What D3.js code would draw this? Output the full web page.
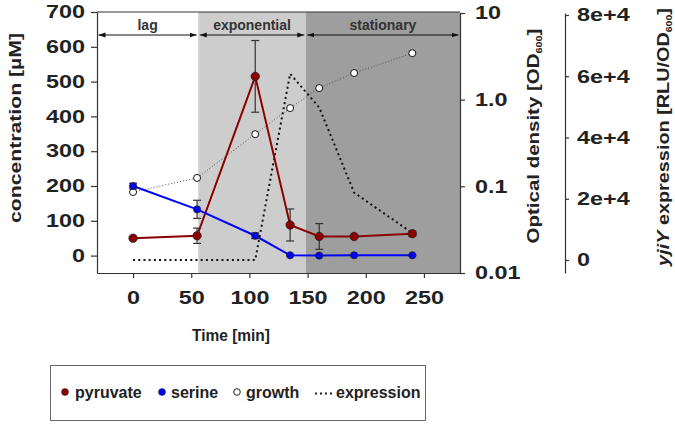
<!DOCTYPE html>
<html>
<head>
<meta charset="utf-8">
<script src="https://cdn.jsdelivr.net/npm/d3@7.9.0/dist/d3.min.js"></script>
<style>
  body { margin: 0; background: #fff; }
  svg { display: block; font-family: "Liberation Sans", Arial, sans-serif; }
</style>
</head>
<body>
<div id="chart"></div>
<script>
// sampling times [min]
const times = [0, 55, 105, 135, 160, 190, 240];
// concentrations [µM]
const pyruvate = [50, 57, 515, 88, 55, 55, 63];
const pyruvateErr = [4, 22, 103, 46, 37, 3, 8];
const serine = [200, 133, 57, 1, 0, 1, 1];
const serineErr = [8, 26, 8, 2, 2, 2, 2];
// OD600
const growth = [0.086, 0.125, 0.40, 0.80, 1.36, 2.03, 3.44];
// yjiY expression [RLU/OD600]
const expression = [0, 0, 0, 60800, 49800, 22000, 8800];

// growth phases (start/end in min)
const phaseNames = ['lag', 'exponential', 'stationary'];
const phaseEdges = [-31, 56, 148.5, 281];

const xTicks = [0, 50, 100, 150, 200, 250];
const concTicks = [0, 100, 200, 300, 400, 500, 600, 700];
const odTicks = [0.01, 0.1, 1, 10];
const odLabels = ['0.01', '0.1', '1.0', '10'];
const exprTicks = [0, 20000, 40000, 60000, 80000];
const exprLabels = ['0', '2e+4', '4e+4', '6e+4', '8e+4'];

const legendNames = ['pyruvate', 'serine', 'growth', 'expression'];

const W = 675, H = 425;
const red = '#8b0000', blue = '#0000ff', ink = '#222';
const phaseFill = ['#ffffff', '#cdcdcd', '#9e9e9e'];

const svg = d3.select('#chart').append('svg').attr('width', W).attr('height', H);

const x = d3.scaleLinear().domain([phaseEdges[0], phaseEdges[3]]).range([97, 460]);
const y = d3.scaleLinear().domain([-50, 700]).range([273, 12]);
const yOD = d3.scaleLog().domain([0.01, 10]).range([273, 13]);
const yEx = d3.scaleLinear().domain([-4250, 80650]).range([273, 13]);

// stretch a text element to a given length
function fit(t, len, base) {
  const w = t.node().getComputedTextLength();
  t.attr('transform', (base || '') + ` scale(${len / w},1)`);
}

// phase backgrounds
svg.append('g').selectAll('rect')
  .data(phaseNames)
  .join('rect')
  .attr('x', (d, i) => x(phaseEdges[i]))
  .attr('width', (d, i) => x(phaseEdges[i + 1]) - x(phaseEdges[i]))
  .attr('y', 12)
  .attr('height', 273 - 12)
  .attr('fill', (d, i) => phaseFill[i]);

// phase arrows
const defs = svg.append('defs');
defs.append('marker').attr('id', 'ah').attr('viewBox', '0 0 10 10')
  .attr('refX', 10).attr('refY', 5).attr('markerWidth', 7).attr('markerHeight', 7)
  .attr('orient', 'auto-start-reverse')
  .append('path').attr('d', 'M0,1.5L10,5L0,8.5z').attr('fill', '#111');

const phases = svg.append('g');
phases.selectAll('line')
  .data(phaseNames)
  .join('line')
  .attr('x1', (d, i) => x(phaseEdges[i]) + 1.5)
  .attr('x2', (d, i) => x(phaseEdges[i + 1]) - 1.5)
  .attr('y1', 35).attr('y2', 35)
  .attr('stroke', '#111').attr('stroke-width', 1)
  .attr('marker-start', 'url(#ah)').attr('marker-end', 'url(#ah)');
phases.selectAll('text')
  .data(phaseNames)
  .join('text')
  .attr('x', (d, i) => (x(phaseEdges[i]) + x(phaseEdges[i + 1])) / 2)
  .attr('y', 30)
  .attr('text-anchor', 'middle')
  .attr('font-size', 14).attr('font-weight', 'bold').attr('fill', '#333')
  .text(d => d);

// expression (dotted black)
svg.append('path')
  .datum(times)
  .attr('fill', 'none').attr('stroke', '#111').attr('stroke-width', 2)
  .attr('stroke-dasharray', '2,3.2')
  .attr('d', d3.line().x(d => x(d)).y((d, i) => yEx(expression[i])));

// growth (fine dotted gray + white circles)
svg.append('path')
  .datum(times)
  .attr('fill', 'none').attr('stroke', '#555').attr('stroke-width', 1)
  .attr('stroke-dasharray', '1,2')
  .attr('d', d3.line().x(d => x(d)).y((d, i) => yOD(growth[i])));

function series(vals, errs, color, lw) {
  const g = svg.append('g');
  g.append('path').datum(times)
    .attr('fill', 'none').attr('stroke', color).attr('stroke-width', lw)
    .attr('d', d3.line().x(d => x(d)).y((d, i) => y(vals[i])));
  const eb = g.selectAll('g.err').data(times).join('g').attr('class', 'err')
    .attr('stroke', '#333').attr('stroke-width', 1.2);
  eb.append('line').attr('x1', d => x(d)).attr('x2', d => x(d))
    .attr('y1', (d, i) => y(vals[i] - errs[i])).attr('y2', (d, i) => y(vals[i] + errs[i]));
  eb.append('line').attr('x1', d => x(d) - 4).attr('x2', d => x(d) + 4)
    .attr('y1', (d, i) => y(vals[i] - errs[i])).attr('y2', (d, i) => y(vals[i] - errs[i]));
  eb.append('line').attr('x1', d => x(d) - 4).attr('x2', d => x(d) + 4)
    .attr('y1', (d, i) => y(vals[i] + errs[i])).attr('y2', (d, i) => y(vals[i] + errs[i]));
  return g;
}

const gGrowth = svg.append('g');
const gPyr = series(pyruvate, pyruvateErr, red, 2);
const gSer = series(serine, serineErr, blue, 2);

gGrowth.selectAll('circle').data(times).join('circle')
  .attr('cx', d => x(d)).attr('cy', (d, i) => yOD(growth[i])).attr('r', 3.5)
  .attr('fill', '#fff').attr('stroke', '#111').attr('stroke-width', 1);
gPyr.selectAll('circle').data(times).join('circle')
  .attr('cx', d => x(d)).attr('cy', (d, i) => y(pyruvate[i])).attr('r', 4.2)
  .attr('fill', red).attr('stroke', '#222').attr('stroke-width', 0.8);
gSer.selectAll('circle').data(times).join('circle')
  .attr('cx', d => x(d)).attr('cy', (d, i) => y(serine[i])).attr('r', 3.6)
  .attr('fill', blue).attr('stroke', '#222').attr('stroke-width', 0.8);

// top frame line
svg.append('line').attr('x1', 97).attr('x2', 460).attr('y1', 12).attr('y2', 12)
  .attr('stroke', '#333').attr('stroke-width', 1.2);

function styleAxis(g) {
  g.selectAll('path.domain, line').attr('stroke', '#333').attr('stroke-width', 1.2);
  g.selectAll('text').attr('fill', ink).attr('font-size', 18).attr('font-weight', 'bold')
    .attr('font-family', '"Liberation Sans", Arial, sans-serif');
}

// left axis
const gL = svg.append('g').attr('transform', 'translate(97,0)')
  .call(d3.axisLeft(y).tickValues(concTicks).tickSize(6).tickSizeOuter(0));
styleAxis(gL);
gL.selectAll('.tick text').attr('x', 0).attr('transform', 'translate(-12,0) scale(1.3,1)');

// bottom axis
const gB = svg.append('g').attr('transform', 'translate(0,273)')
  .call(d3.axisBottom(x).tickValues(xTicks).tickSize(5).tickSizeOuter(0));
styleAxis(gB);
gB.selectAll('.tick text').attr('y', 0).attr('dy', 0).attr('transform', 'translate(0,31) scale(1.3,1)');

// OD axis
const gR = svg.append('g').attr('transform', 'translate(460,0)')
  .call(d3.axisRight(yOD).tickValues(odTicks).tickFormat((d, i) => odLabels[i]).tickSize(5).tickSizeOuter(0));
styleAxis(gR);
gR.selectAll('.tick text').attr('x', 0).attr('transform', 'translate(15,0) scale(1.3,1)');

// expression axis
const gE = svg.append('g').attr('transform', 'translate(565,0)')
  .call(d3.axisRight(yEx).tickValues(exprTicks).tickFormat((d, i) => exprLabels[i]).tickSize(4).tickSizeOuter(0));
styleAxis(gE);
gE.selectAll('.tick text').attr('x', 0).attr('transform', 'translate(12,0) scale(1.3,1)');

// axis titles
const tL = svg.append('text').attr('text-anchor', 'middle').attr('dy', '0.35em')
  .attr('font-size', 17).attr('font-weight', 'bold').attr('fill', ink)
  .text('concentration [µM]');
fit(tL, 190, 'translate(15,128) rotate(-90)');

const tOD = svg.append('text').attr('text-anchor', 'middle').attr('dy', '0.35em')
  .attr('font-size', 17).attr('font-weight', 'bold').attr('fill', ink);
tOD.append('tspan').text('Optical density [OD');
tOD.append('tspan').attr('font-size', 9).attr('dy', 3).text('600');
tOD.append('tspan').attr('dy', -3).text(']');
fit(tOD, 215, 'translate(533,136) rotate(-90)');

const tE = svg.append('text').attr('text-anchor', 'middle').attr('dy', '0.35em')
  .attr('font-size', 17).attr('font-weight', 'bold').attr('fill', ink);
tE.append('tspan').attr('font-style', 'italic').text('yjiY');
tE.append('tspan').text(' expression [RLU/OD');
tE.append('tspan').attr('font-size', 9).attr('dy', 3).text('600');
tE.append('tspan').attr('dy', -3).text(']');
fit(tE, 258, 'translate(663,137) rotate(-90)');

const tX = svg.append('text').attr('text-anchor', 'middle')
  .attr('font-size', 17).attr('font-weight', 'bold').attr('fill', ink)
  .text('Time [min]');
fit(tX, 78, 'translate(231,341)');

// legend
const lg = svg.append('g');
lg.append('rect').attr('x', 50.5).attr('y', 365.5).attr('width', 375).attr('height', 55)
  .attr('fill', '#fff').attr('stroke', '#666').attr('stroke-width', 1);
const legX = [65, 162, 237, 315];
const legText = [75, 171, 246, 336];
lg.selectAll('text').data(legendNames).join('text')
  .attr('x', (d, i) => legText[i]).attr('y', 398)
  .attr('font-size', 16).attr('font-weight', 'bold').attr('fill', ink)
  .text(d => d);
lg.append('circle').attr('cx', legX[0]).attr('cy', 392).attr('r', 3.5).attr('fill', red).attr('stroke', '#333').attr('stroke-width', 0.6);
lg.append('circle').attr('cx', legX[1]).attr('cy', 392).attr('r', 3.5).attr('fill', blue).attr('stroke', '#333').attr('stroke-width', 0.6);
lg.append('circle').attr('cx', legX[2]).attr('cy', 392).attr('r', 3.3).attr('fill', '#fff').attr('stroke', '#222').attr('stroke-width', 1);
lg.append('line').attr('x1', legX[3]).attr('x2', legX[3] + 18).attr('y1', 393.5).attr('y2', 393.5)
  .attr('stroke', '#222').attr('stroke-width', 2).attr('stroke-dasharray', '2,3');
</script>
</body>
</html>
